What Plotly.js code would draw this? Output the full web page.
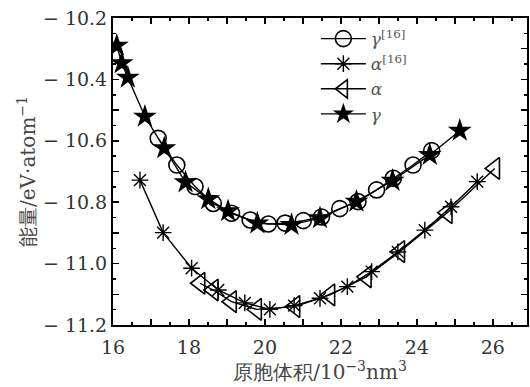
<!DOCTYPE html>
<html>
<head>
<meta charset="utf-8">
<script src="https://cdn.plot.ly/plotly-3.0.1.min.js"></script>
<style>html,body{margin:0;padding:0;background:#fff;}#chart{width:530px;height:387px;}</style>
</head>
<body>
<div id="chart"></div>
<script>
// gamma [16] (open circles)
var gammaRefX = [17.19, 17.68, 18.16, 18.64, 19.12, 19.61, 20.09, 20.53, 21.01, 21.49, 21.97, 22.45, 22.94, 23.38, 23.90, 24.39];
var gammaRefY = [-10.592, -10.679, -10.749, -10.804, -10.836, -10.858, -10.871, -10.868, -10.860, -10.848, -10.821, -10.798, -10.760, -10.722, -10.679, -10.632];
// alpha [16] (asterisks)
var alphaRefX = [16.71, 17.32, 18.07, 18.77, 19.47, 20.13, 20.77, 21.45, 22.17, 22.81, 23.50, 24.21, 24.90, 25.59];
var alphaRefY = [-10.728, -10.899, -11.015, -11.086, -11.128, -11.149, -11.137, -11.113, -11.075, -11.026, -10.962, -10.891, -10.815, -10.733];
// alpha (triangles)
var alphaX = [18.29, 18.64, 19.12, 19.78, 20.79, 21.71, 22.67, 23.55, 24.80, 26.05];
var alphaY = [-11.064, -11.086, -11.124, -11.149, -11.140, -11.102, -11.043, -10.961, -10.834, -10.690];
// gamma (stars)
var gammaX = [16.10, 16.23, 16.39, 16.84, 17.35, 17.91, 18.51, 19.03, 19.80, 20.70, 21.45, 22.41, 23.36, 24.34, 25.13];
var gammaY = [-10.290, -10.347, -10.394, -10.521, -10.624, -10.735, -10.790, -10.829, -10.869, -10.874, -10.852, -10.798, -10.730, -10.646, -10.567];

var xTickVals = [16,17,18,19,20,21,22,23,24,25,26];
var xTickText = ['16','','18','','20','','22','','24','','26'];
var yTickVals = [-11.2,-11.1,-11.0,-10.9,-10.8,-10.7,-10.6,-10.5,-10.4,-10.3,-10.2];
var yTickText = ['\u2212 11.2','','\u2212 11.0','','\u2212 10.8','','\u2212 10.6','','\u2212 10.4','','\u2212 10.2'];

var lineStyle = {color: '#000', width: 1.4};
var traces = [
  {x: gammaRefX, y: gammaRefY, name: '<i>γ</i><sup>[16]</sup>', mode: 'lines+markers', line: lineStyle,
   marker: {symbol: 'circle-open', size: 16, color: '#000', line: {width: 1.6, color: '#000'}}},
  {x: alphaRefX, y: alphaRefY, name: '<i>α</i><sup>[16]</sup>', mode: 'lines+markers', line: lineStyle,
   marker: {symbol: 'asterisk-open', size: 14, color: '#000', line: {width: 1.4, color: '#000'}}},
  {x: alphaX, y: alphaY, name: '<i>α</i>', mode: 'lines+markers', line: lineStyle,
   marker: {symbol: 'triangle-left-open', size: 19, color: '#000', line: {width: 1.6, color: '#000'}}},
  {x: gammaX, y: gammaY, name: '<i>γ</i>', mode: 'lines+markers', line: lineStyle,
   marker: {symbol: 'star', size: 18, color: '#000', line: {width: 0}}}
];

var font = 'DejaVu Serif';
var layout = {
  width: 530, height: 387,
  margin: {l: 113, r: 3, t: 18, b: 62},
  paper_bgcolor: '#fff', plot_bgcolor: '#fff',
  font: {family: font, color: '#333', size: 18},
  showlegend: true,
  legend: {x: 0.49, y: 0.99, xanchor: 'left', yanchor: 'top', bgcolor: 'rgba(0,0,0,0)',
           font: {family: font, size: 17, color: '#555'}, itemwidth: 45, tracegroupgap: 0},
  xaxis: {
    range: [16, 26.9], showgrid: false, zeroline: false,
    showline: true, linecolor: '#000', linewidth: 2, mirror: 'allticks',
    ticks: 'inside', ticklen: 6, tickwidth: 1.5, tickcolor: '#000',
    tickvals: xTickVals, ticktext: xTickText, ticklabelstandoff: 4,
    minor: {dtick: 0.5, tick0: 16, ticks: 'inside', ticklen: 3, tickwidth: 1.5, tickcolor: '#000'},
    tickfont: {family: font, size: 19, color: '#333'},
    title: {text: '原胞体积/10<sup>−3</sup>nm<sup>3</sup>\u00a0\u00a0\u00a0\u00a0\u00a0\u00a0', font: {family: font, size: 20, color: '#444'}, standoff: 3}
  },
  yaxis: {
    range: [-11.2, -10.2], showgrid: false, zeroline: false,
    showline: true, linecolor: '#000', linewidth: 2, mirror: 'allticks',
    ticks: 'inside', ticklen: 6, tickwidth: 1.5, tickcolor: '#000',
    tickvals: yTickVals, ticktext: yTickText,
    minor: {dtick: 0.05, tick0: -11.2, ticks: 'inside', ticklen: 3, tickwidth: 1.5, tickcolor: '#000'},
    tickfont: {family: font, size: 19, color: '#333'},
    title: {text: '能量/eV·atom<sup>−1</sup>', font: {family: font, size: 20, color: '#444'}, standoff: 2}
  }
};

Plotly.newPlot('chart', traces, layout, {displayModeBar: false, staticPlot: true});
</script>
</body>
</html>
